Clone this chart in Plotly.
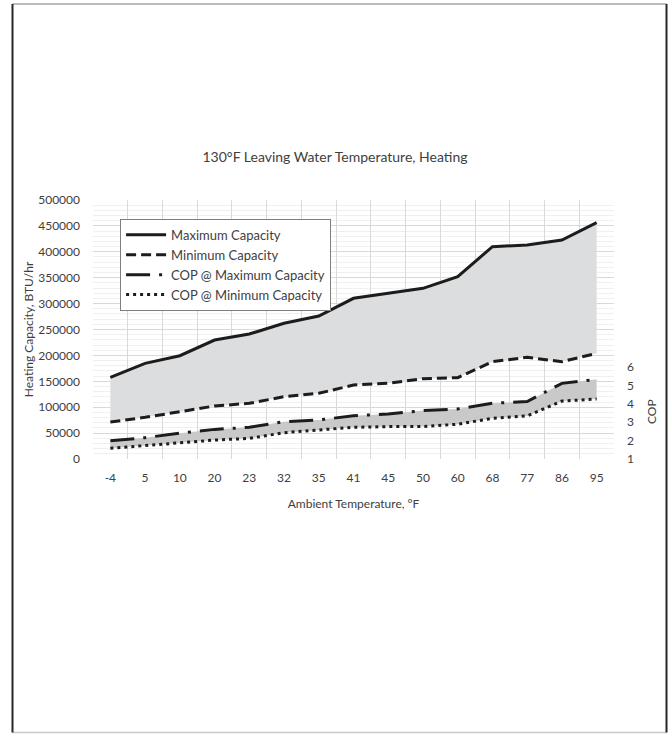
import plotly.graph_objects as go

categories = ["-4", "5", "10", "20", "23", "32", "35", "41", "45", "50", "60", "68", "77", "86", "95"]
max_capacity = [157700, 184700, 199400, 229700, 241300, 262000, 276100, 310200, 319900, 329500, 352000, 409900, 413100, 422800, 456200]
min_capacity = [71400, 80400, 91300, 102300, 107500, 120300, 126800, 142900, 146100, 155000, 157000, 187900, 196300, 187900, 204000]
cop_max = [1.99, 2.16, 2.40, 2.61, 2.72, 3.03, 3.12, 3.35, 3.45, 3.63, 3.72, 4.03, 4.12, 5.11, 5.33]
cop_min = [1.58, 1.74, 1.89, 2.03, 2.12, 2.43, 2.58, 2.72, 2.76, 2.76, 2.89, 3.21, 3.34, 4.15, 4.26]
left_ticks = [0, 50000, 100000, 150000, 200000, 250000, 300000, 350000, 400000, 450000, 500000]
cop_ticks = [1, 2, 3, 4, 5, 6]

FONT = "Lato"
TXT = "#404040"
LINE = "#1c1c1c"

fig = go.Figure()
# shaded bands (no legend)
fig.add_trace(go.Scatter(x=categories, y=min_capacity, mode="lines", line=dict(width=0),
                         showlegend=False, hoverinfo="skip"))
fig.add_trace(go.Scatter(x=categories, y=max_capacity, mode="lines", line=dict(width=0),
                         fill="tonexty", fillcolor="#dcdddf", showlegend=False, hoverinfo="skip"))
fig.add_trace(go.Scatter(x=categories, y=cop_min, mode="lines", line=dict(width=0), yaxis="y2",
                         showlegend=False, hoverinfo="skip"))
fig.add_trace(go.Scatter(x=categories, y=cop_max, mode="lines", line=dict(width=0), yaxis="y2",
                         fill="tonexty", fillcolor="#c9c9c9", showlegend=False, hoverinfo="skip"))
# lines
fig.add_trace(go.Scatter(x=categories, y=max_capacity, name="Maximum Capacity", mode="lines",
                         line=dict(color=LINE, width=3)))
fig.add_trace(go.Scatter(x=categories, y=min_capacity, name="Minimum Capacity", mode="lines",
                         line=dict(color=LINE, width=3, dash="10px,5px")))
fig.add_trace(go.Scatter(x=categories, y=cop_max, name="COP @ Maximum Capacity", mode="lines",
                         line=dict(color=LINE, width=3, dash="24px,9px,3px,9px"), yaxis="y2"))
fig.add_trace(go.Scatter(x=categories, y=cop_min, name="COP @ Minimum Capacity", mode="lines",
                         line=dict(color=LINE, width=3, dash="3px,4px"), yaxis="y2"))

fig.update_layout(
    width=670, height=734,
    margin=dict(l=93, r=56, t=200, b=275),
    paper_bgcolor="white", plot_bgcolor="white",
    font=dict(family=FONT, size=12, color=TXT),
    title=dict(text="130°F Leaving Water Temperature, Heating", x=0.5, xanchor="center",
               y=1 - 157 / 734, yanchor="middle", font=dict(size=14, color=TXT)),
    showlegend=True,
    legend=dict(x=0.052, y=0.927, xanchor="left", yanchor="top", bgcolor="white",
                bordercolor="#7f7f7f", borderwidth=1, font=dict(size=13, color=TXT),
                traceorder="normal", tracegroupgap=0, itemwidth=40),
    xaxis=dict(type="category", categoryorder="array", categoryarray=categories,
               range=[-0.5, 14.5], tickson="boundaries", showgrid=True, gridcolor="#d9d9d9",
               gridwidth=1, ticks="", showline=False, zeroline=False, ticklabelstandoff=10,
               title=dict(text="Ambient Temperature, °F", standoff=15, font=dict(size=12, color=TXT))),
    xaxis2=dict(overlaying="x", anchor="y", range=[-0.5, 14.5], tick0=0, dtick=1,
                showgrid=True, gridcolor="#efefef", showticklabels=False, ticks="",
                zeroline=False, showline=False, layer="below traces"),
    yaxis=dict(range=[0, 500000], tickvals=left_ticks, tickformat="d", showgrid=True,
               gridcolor="#d9d9d9", zeroline=False, showline=False, ticks="", ticklabelstandoff=12,
               minor=dict(dtick=10000, showgrid=True, gridcolor="#f0f0f0"),
               title=dict(text="Heating Capacity, BTU/hr", standoff=2, font=dict(size=12, color=TXT))),
    yaxis2=dict(overlaying="y", side="right", range=[1, 1 + 259 / 18.4], tickvals=cop_ticks,
                showgrid=False, zeroline=False, showline=False, ticks="", ticklabelstandoff=12),
)

fig.add_annotation(text="COP", xref="paper", yref="paper", x=(651 - 93) / 521, y=(459 - 412) / 259,
                   xanchor="center", yanchor="middle", textangle=-90, showarrow=False,
                   font=dict(size=12, color=TXT))

# outer frame
def px_x(v):
    return (v - 93) / 521

def px_y(v):
    return (459 - v) / 259

frame = [
    (12.5, 4, 666.5, 4, "#a6a6a6", 1.5),
    (12.5, 732.5, 666.5, 732.5, "#c8c8c8", 1.5),
    (12.5, 4, 12.5, 732.5, "#262626", 2),
    (666.5, 4, 666.5, 732.5, "#262626", 2),
]
for x0, y0, x1, y1, c, w in frame:
    fig.add_shape(type="line", xref="paper", yref="paper", x0=px_x(x0), y0=px_y(y0),
                  x1=px_x(x1), y1=px_y(y1), line=dict(color=c, width=w))

fig.write_html("out.html", config={"staticPlot": True, "displayModeBar": False},
               post_script="document.body.style.margin='0';document.body.style.overflow='hidden';")
